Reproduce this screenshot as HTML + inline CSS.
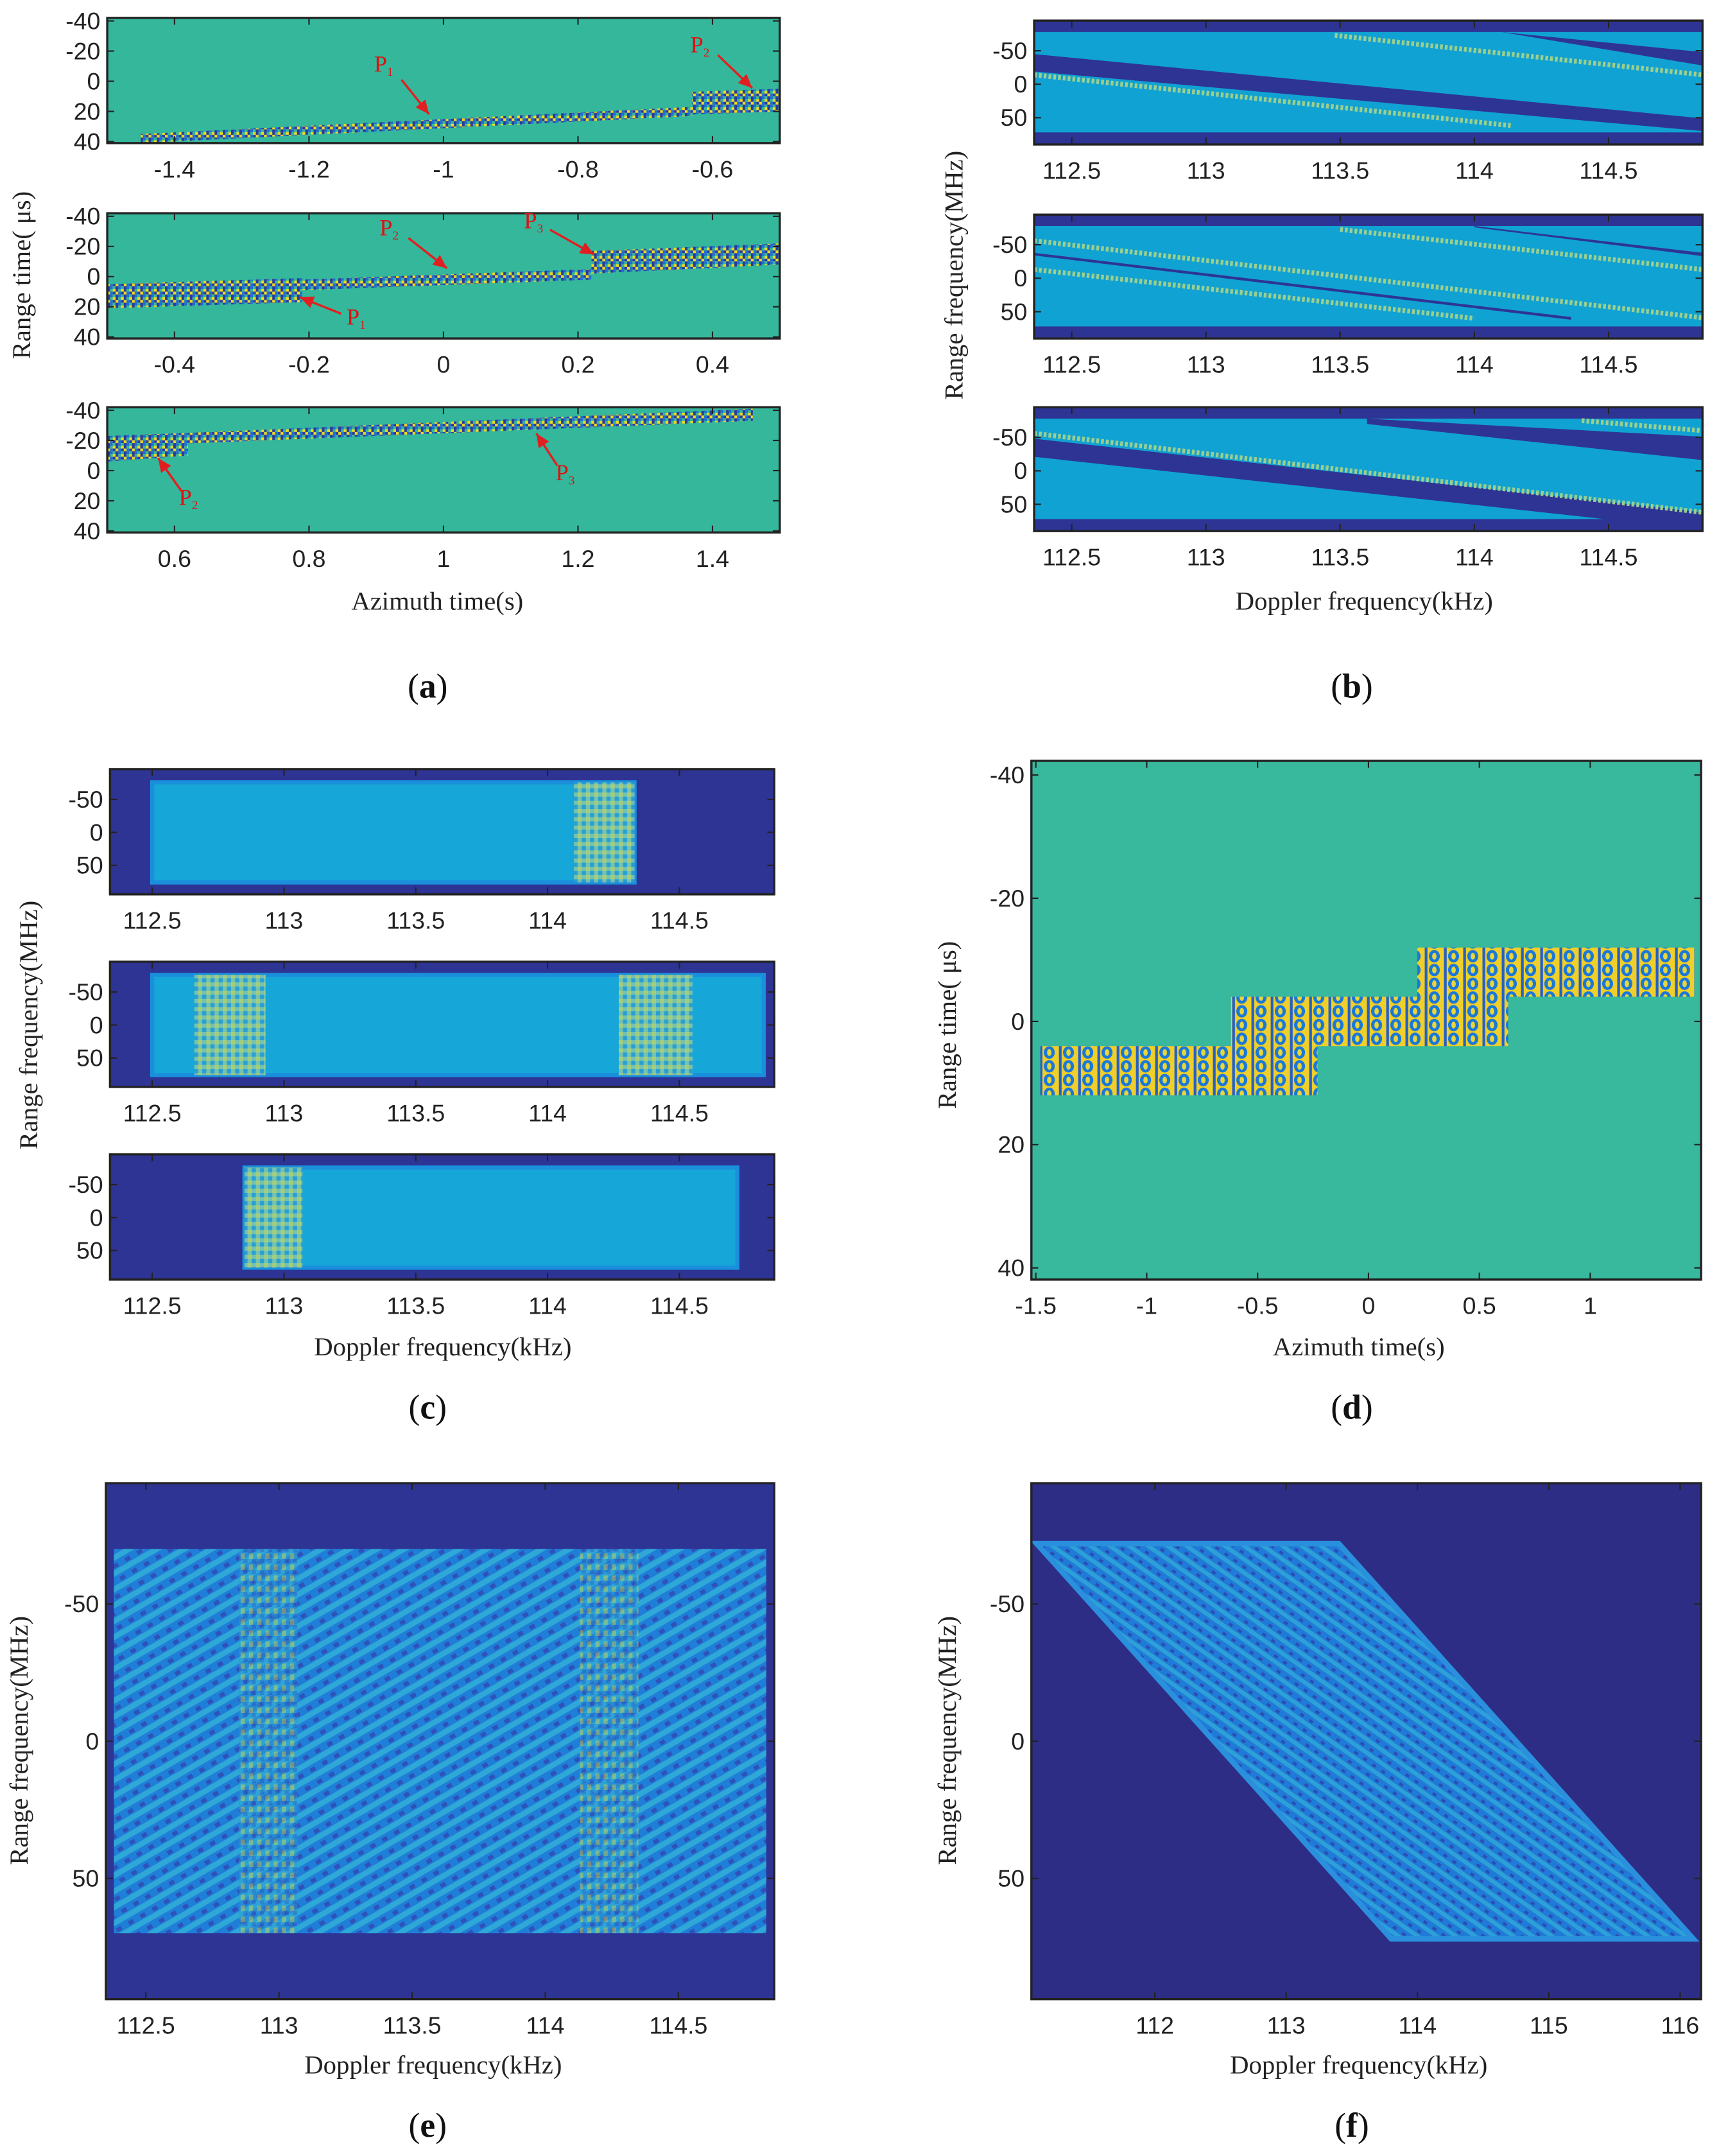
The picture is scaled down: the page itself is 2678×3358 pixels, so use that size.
<!DOCTYPE html>
<html><head><meta charset="utf-8"><style>
html,body{margin:0;padding:0;background:#fff;}
svg{display:block;}
.tk{font-family:"Liberation Sans",sans-serif;font-size:17.5px;fill:#222;}
.ti{font-family:"Liberation Serif",serif;font-size:19px;fill:#222;}
.pl{font-family:"Liberation Serif",serif;font-size:25px;fill:#111;}
.ann{font-family:"Liberation Serif",serif;font-size:17px;fill:#d11;}
</style></head><body>
<svg id="fig" xmlns="http://www.w3.org/2000/svg" width="2678" height="3358" viewBox="0 0 1250 1567" preserveAspectRatio="none">
<defs>
<pattern id="noiseA" width="6" height="6" patternUnits="userSpaceOnUse">
<rect width="6" height="6" fill="#f2dc1e"/>
<rect x="0" y="0" width="2" height="2" fill="#2b3a9c"/><rect x="4" y="2" width="2" height="2" fill="#2b3a9c"/>
<rect x="2" y="4" width="2" height="2" fill="#1b6fd6"/><rect x="2" y="0" width="2" height="2" fill="#35b79b"/>
<rect x="0" y="4" width="2" height="2" fill="#2b3a9c"/><rect x="4" y="4" width="2" height="2" fill="#35b79b"/>
<rect x="2" y="2" width="2" height="2" fill="#1b6fd6"/>
</pattern>
<pattern id="noiseD" width="14" height="10" patternUnits="userSpaceOnUse">
<rect width="14" height="10" fill="#f0cf2a"/>
<ellipse cx="7" cy="5" rx="4" ry="4.5" fill="#1a78d8"/>
<ellipse cx="7" cy="5" rx="1.6" ry="2.5" fill="#e8d63a"/>
<rect x="0" y="0" width="2" height="10" fill="#2460c8"/>
</pattern>
<pattern id="speck" width="6" height="6" patternUnits="userSpaceOnUse">
<rect width="6" height="6" fill="#8cc9a6"/><rect width="3" height="3" fill="#c9d863"/><rect x="3" y="3" width="3" height="3" fill="#2c9fd0"/>
</pattern>
<pattern id="stripeE" width="10" height="10" patternUnits="userSpaceOnUse" patternTransform="rotate(-30)">
<rect width="10" height="10" fill="#1f7ed8"/><rect width="10" height="4" fill="#2fa7d7"/><rect x="2" y="6" width="4" height="3" fill="#2e52b8"/>
</pattern>
<pattern id="stripeF" width="8" height="8" patternUnits="userSpaceOnUse" patternTransform="rotate(35)">
<rect width="8" height="8" fill="#1f7ad8"/><rect width="8" height="3" fill="#2ea0d8"/><rect x="1" y="5" width="3" height="2" fill="#2d4cb0"/>
</pattern>
<pattern id="speckE" width="6" height="8" patternUnits="userSpaceOnUse">
<rect width="6" height="8" fill="#2aa0d4"/><rect x="1" y="1" width="3" height="4" fill="#d8d840"/><rect x="3" y="5" width="3" height="3" fill="#2f5cc0"/>
</pattern>
</defs>
</svg>
<script>
// ---------- data ----------
// (a) band segments: [x0, top0, bot0, x1, top1, bot1] (azimuth s, range µs)
const bandsA1 = [[-1.45,35,41,-0.63,17,23],[-0.63,7,22,-0.5,5,20]];
const bandsA2 = [[-0.5,5,21,-0.21,1,17],[-0.21,2,9,0.22,-5,2],[0.22,-17,-2,0.5,-22,-8]];
const bandsA3 = [[0.5,-23,-6,0.62,-25,-10],[0.62,-25,-18,1.46,-41,-33]];
const xticksA1 = [-1.4,-1.2,-1,-0.8,-0.6];
const xticksA2 = [-0.4,-0.2,0,0.2,0.4];
const xticksA3 = [0.6,0.8,1,1.2,1.4];
const yticksA = [-40,-20,0,20,40];
// (b) dark slanted bands [f0, top0, bot0, f1, top1, bot1], dotted lines [f0,r0,f1,r1]
const darkB1 = [[112.36,-45,-19,114.85,51,70],[114.1,-78,-78,114.85,-48,-28]];
const dotB1 = [[112.36,-14,114.14,62],[113.48,-73,114.85,-14]];
const darkB2 = [[112.36,-38,-34,114.36,58,62],[114.0,-78,-76,114.85,-38,-33]];
const dotB2 = [[112.36,-56,114.85,59],[112.36,-13,114.0,60],[113.5,-73,114.85,-13]];
const darkB3 = [[112.36,-48,-21,114.85,62,88],[113.6,-78,-70,114.85,-51,-16]];
const dotB3 = [[112.36,-56,114.85,62],[114.4,-75,114.85,-60]];
const xticksB = [112.5,113,113.5,114,114.5];
const yticksB = [-50,0,50];
// (c) bright rect [f0,f1] and speckled strips
const rectC = [[112.5,114.33],[112.5,114.82],[112.85,114.72]];
const speckC = [[[114.1,114.33]],[[112.66,112.93],[114.27,114.55]],[[112.85,113.07]]];
const xticksC = [112.5,113,113.5,114,114.5];
// (d) rectangles [x0,x1,top,bottom]
const rectsD = [[-1.48,-0.23,4,12],[-0.62,0.63,-4,4],[0.22,1.47,-12,-4]];
const xticksD = [-1.5,-1,-0.5,0,0.5,1];
const yticksD = [-40,-20,0,20,40];
// (e)
const rectE = [112.38,114.83,-70,70];
const speckE = [[112.85,113.07],[114.13,114.35]];
const xticksE = [112.5,113,113.5,114,114.5];
// (f) parallelogram vertices [f, r]
const polyF = [[111.1,-72],[113.4,-72],[116.1,72],[113.8,72]];
const xticksF = [112,113,114,115,116];
const yticksEF = [-50,0,50];

// ---------- helpers ----------
const NS='http://www.w3.org/2000/svg';
const svg=document.getElementById('fig');
function mk(tag,attrs,parent){const e=document.createElementNS(NS,tag);for(const k in attrs)e.setAttribute(k,attrs[k]);(parent||svg).appendChild(e);return e;}
function scales(p){return{x:v=>p.x0+(v-p.xd[0])/(p.xd[1]-p.xd[0])*(p.x1-p.x0),y:v=>p.y0+(v-p.yd[0])/(p.yd[1]-p.yd[0])*(p.y1-p.y0)};}
function group(name){const g=mk('g',{});return g;}
function clip(id,p){const c=mk('clipPath',{id:id});mk('rect',{x:p.x0,y:p.y0,width:p.x1-p.x0,height:p.y1-p.y0},c);}
function axes(p,g,xt,yt,name){
  const s=scales(p);
  const fr=mk('rect',{x:p.x0,y:p.y0,width:p.x1-p.x0,height:p.y1-p.y0,fill:'none',stroke:'#222','stroke-width':1.6},g);
  
  
  xt.forEach(v=>{const X=s.x(v);
    mk('line',{x1:X,x2:X,y1:p.y1,y2:p.y1-5,stroke:'#222','stroke-width':1},g);
    mk('line',{x1:X,x2:X,y1:p.y0,y2:p.y0+5,stroke:'#222','stroke-width':1},g);
    const t=mk('text',{x:X,y:p.y1+25,'text-anchor':'middle',class:'tk'},g);t.textContent=String(v);
    
    });
  yt.forEach(v=>{const Y=s.y(v);
    mk('line',{x1:p.x0,x2:p.x0+5,y1:Y,y2:Y,stroke:'#222','stroke-width':1},g);
    mk('line',{x1:p.x1,x2:p.x1-5,y1:Y,y2:Y,stroke:'#222','stroke-width':1},g);
    const t=mk('text',{x:p.x0-5,y:Y+6,'text-anchor':'end',class:'tk'},g);t.textContent=String(v);
    
    });
}
function label(txt,x,y,cls,name,rot){const t=mk('text',{x:x,y:y,'text-anchor':'middle',class:cls});
  if(rot)t.setAttribute('transform','rotate(-90 '+x+' '+y+')');t.textContent=txt;
  
  return t;}
function quad(s,b,fill,g,cp){const pts=[[b[0],b[1]],[b[3],b[4]],[b[3],b[5]],[b[0],b[2]]].map(q=>s.x(q[0])+','+s.y(q[1])).join(' ');
  return mk('polygon',{points:pts,fill:fill,'clip-path':'url(#'+cp+')'},g);}
function panelLetter(letter,x,y){const t=mk('text',{x:x,y:y,'text-anchor':'middle',class:'pl'});
  t.innerHTML='(<tspan font-weight="bold">'+letter+'</tspan>)';
  
  }

// ---------- (a) ----------
const PA=[{x0:78,x1:567,y0:13,y1:104,xd:[-1.5,-0.5],yd:[-42,41]},
          {x0:78,x1:567,y0:155,y1:246,xd:[-0.5,0.5],yd:[-42,41]},
          {x0:78,x1:567,y0:296,y1:387,xd:[0.5,1.5],yd:[-42,41]}];
[[bandsA1,xticksA1],[bandsA2,xticksA2],[bandsA3,xticksA3]].forEach((d,i)=>{
  const p=PA[i],s=scales(p),g=group('panel-a'+(i+1));clip('ca'+i,p);
  mk('rect',{x:p.x0,y:p.y0,width:p.x1-p.x0,height:p.y1-p.y0,fill:'#35b79b'},g);
  d[0].forEach(b=>{const e=quad(s,b,'url(#noiseA)',g,'ca'+i);
    
    });
  axes(p,g,d[1],yticksA,'panel-a'+(i+1));
});
label('Range time( μs)',22,200,'ti','panel-a-y-axis-title',true);
label('Azimuth time(s)',318,443,'ti','panel-a-x-axis-title');
panelLetter('a',311,507);
// annotations
const annA=[['1',272,52,292,58,312,83],['2',502,38,522,40,547,64],['2',276,171,297,173,325,195],['3',381,166,400,167,432,185],['1',252,236,248,228,218,216],['2',130,367,132,357,115,333],['3',404,349,405,338,390,315]];
annA.forEach(a=>{const g=group('annotation-p'+a[0]);
  const t=mk('text',{x:a[1],y:a[2],class:'ann'},g);t.innerHTML='P<tspan font-size="9" dy="3">'+a[0]+'</tspan>';
  mk('line',{x1:a[3],y1:a[4],x2:a[5],y2:a[6],stroke:'#e02020','stroke-width':1.6},g);
  const ang=Math.atan2(a[6]-a[4],a[5]-a[3]),L=10,W=4.5;
  const bx=a[5]-L*Math.cos(ang),by=a[6]-L*Math.sin(ang);
  mk('polygon',{points:a[5]+','+a[6]+' '+(bx-W*Math.sin(ang))+','+(by+W*Math.cos(ang))+' '+(bx+W*Math.sin(ang))+','+(by-W*Math.cos(ang)),fill:'#e02020'},g);});

// ---------- (b) ----------
const PB=[{y0:15,y1:105},{y0:156,y1:246},{y0:296,y1:386}].map(o=>({x0:752,x1:1238,y0:o.y0,y1:o.y1,xd:[112.36,114.85],yd:[-95,90]}));
[[darkB1,dotB1],[darkB2,dotB2],[darkB3,dotB3]].forEach((d,i)=>{
  const p=PB[i],s=scales(p),g=group('panel-b'+(i+1));clip('cb'+i,p);
  mk('rect',{x:p.x0,y:p.y0,width:p.x1-p.x0,height:p.y1-p.y0,fill:'#2e3494'},g);
  mk('rect',{x:p.x0,y:s.y(-78),width:p.x1-p.x0,height:s.y(72)-s.y(-78),fill:'#10a2d2'},g);
  d[0].forEach(b=>{const e=quad(s,b,'#2e3494',g,'cb'+i);
    
    });
  d[1].forEach(l=>{const e=mk('line',{x1:s.x(l[0]),y1:s.y(l[1]),x2:s.x(l[2]),y2:s.y(l[3]),stroke:'#9ccf8e','stroke-width':3.5,'stroke-dasharray':'2 1.5','clip-path':'url(#cb'+i+')'},g);
    
    });
  axes(p,g,xticksB,yticksB,'panel-b'+(i+1));
});
label('Range frequency(MHz)',700,200,'ti','panel-b-y-axis-title',true);
label('Doppler frequency(kHz)',992,443,'ti','panel-b-x-axis-title');
panelLetter('b',983,507);

// ---------- (c) ----------
const PC=[{y0:559,y1:650},{y0:699,y1:790},{y0:839,y1:930}].map(o=>({x0:80,x1:563,y0:o.y0,y1:o.y1,xd:[112.34,114.86],yd:[-96,94]}));
PC.forEach((p,i)=>{
  const s=scales(p),g=group('panel-c'+(i+1));
  mk('rect',{x:p.x0,y:p.y0,width:p.x1-p.x0,height:p.y1-p.y0,fill:'#2e3494'},g);
  const r=mk('rect',{x:s.x(rectC[i][0]),y:s.y(-76),width:s.x(rectC[i][1])-s.x(rectC[i][0]),height:s.y(76)-s.y(-76),fill:'#17a6d8',stroke:'#1a8fdc','stroke-width':3},g);
  
  
  speckC[i].forEach(k=>{const e=mk('rect',{x:s.x(k[0]),y:s.y(-76),width:s.x(k[1])-s.x(k[0]),height:s.y(76)-s.y(-76),fill:'url(#speck)',opacity:0.8},g);
    
    });
  axes(p,g,xticksC,yticksB,'panel-c'+(i+1));
});
label('Range frequency(MHz)',27,745,'ti','panel-c-y-axis-title',true);
label('Doppler frequency(kHz)',322,985,'ti','panel-c-x-axis-title');
panelLetter('c',311,1031);

// ---------- (d) ----------
(function(){const p={x0:750,x1:1237,y0:553,y1:930,xd:[-1.52,1.5],yd:[-42.3,41.9]},s=scales(p),g=group('panel-d');
  mk('rect',{x:p.x0,y:p.y0,width:p.x1-p.x0,height:p.y1-p.y0,fill:'#38b89c'},g);
  rectsD.forEach(r=>{const e=mk('rect',{x:s.x(r[0]),y:s.y(r[2]),width:s.x(r[1])-s.x(r[0]),height:s.y(r[3])-s.y(r[2]),fill:'url(#noiseD)'},g);
    
    });
  axes(p,g,xticksD,yticksD,'panel-d');})();
label('Range time( μs)',695,745,'ti','panel-d-y-axis-title',true);
label('Azimuth time(s)',988,985,'ti','panel-d-x-axis-title');
panelLetter('d',983,1031);

// ---------- (e) ----------
(function(){const p={x0:77,x1:563,y0:1078,y1:1453,xd:[112.35,114.86],yd:[-94,94]},s=scales(p),g=group('panel-e');
  mk('rect',{x:p.x0,y:p.y0,width:p.x1-p.x0,height:p.y1-p.y0,fill:'#2e3494'},g);
  const r=mk('rect',{x:s.x(rectE[0]),y:s.y(rectE[2]),width:s.x(rectE[1])-s.x(rectE[0]),height:s.y(rectE[3])-s.y(rectE[2]),fill:'url(#stripeE)'},g);
  
  
  speckE.forEach(k=>{const e=mk('rect',{x:s.x(k[0]),y:s.y(rectE[2]),width:s.x(k[1])-s.x(k[0]),height:s.y(rectE[3])-s.y(rectE[2]),fill:'url(#speckE)',opacity:0.45},g);
    
    });
  axes(p,g,xticksE,yticksEF,'panel-e');})();
label('Range frequency(MHz)',20,1265,'ti','panel-e-y-axis-title',true);
label('Doppler frequency(kHz)',315,1507,'ti','panel-e-x-axis-title');
panelLetter('e',311,1553);

// ---------- (f) ----------
(function(){const p={x0:750,x1:1237,y0:1078,y1:1453,xd:[111.06,116.16],yd:[-94,94]},s=scales(p),g=group('panel-f');
  clip('cf',p);
  mk('rect',{x:p.x0,y:p.y0,width:p.x1-p.x0,height:p.y1-p.y0,fill:'#2e2d86'},g);
  const e=mk('polygon',{points:polyF.map(q=>s.x(q[0])+','+s.y(q[1])).join(' '),fill:'url(#stripeF)',stroke:'#2a8fdc','stroke-width':4,'clip-path':'url(#cf)'},g);
  
  
  axes(p,g,xticksF,yticksEF,'panel-f');})();
label('Range frequency(MHz)',695,1265,'ti','panel-f-y-axis-title',true);
label('Doppler frequency(kHz)',988,1507,'ti','panel-f-x-axis-title');
panelLetter('f',983,1553);
</script>
</body></html>
